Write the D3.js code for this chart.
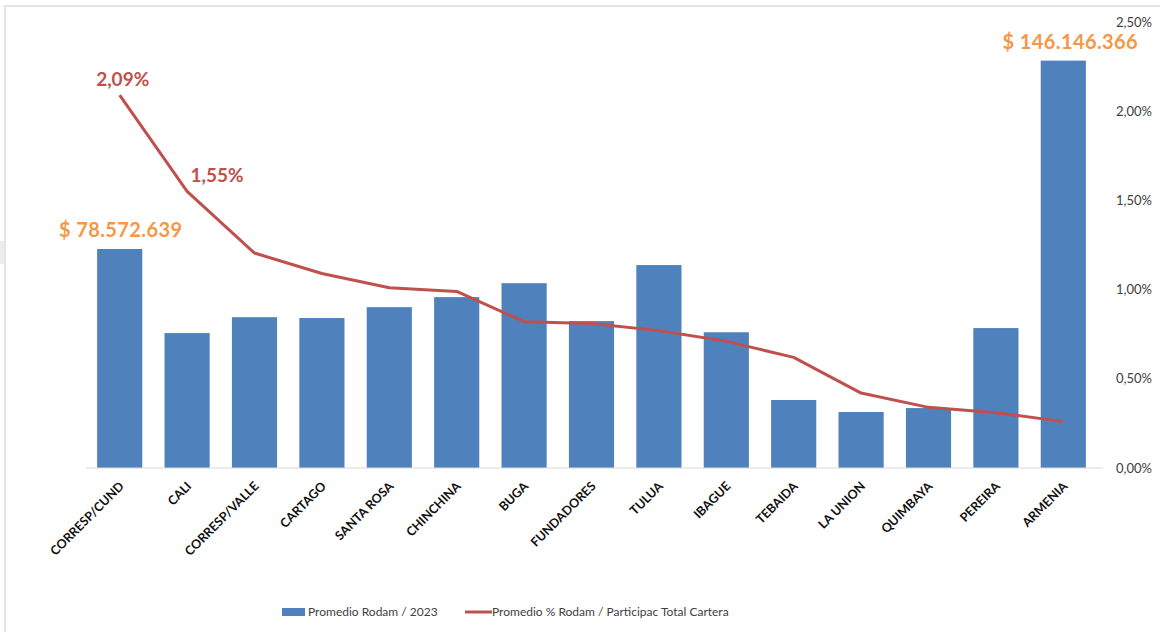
<!DOCTYPE html>
<html>
<head>
<meta charset="utf-8">
<script src="https://cdn.jsdelivr.net/npm/d3@7"></script>
<style>
  body { margin: 0; background: #fff; }
  svg { display: block; font-family: Lato, "Open Sans", sans-serif; }
  .tick-pct text { fill: #404040; font-size: 13px; font-family: Lato, "Open Sans", sans-serif; }
  .cat text { fill: #111; font-size: 12.5px; font-weight: bold; font-family: Lato, "Open Sans", sans-serif; }
</style>
</head>
<body>
<svg id="chart" width="1160" height="632"></svg>
<script>
'use strict';

var categories = ['CORRESP/CUND', 'CALI', 'CORRESP/VALLE', 'CARTAGO', 'SANTA ROSA',
  'CHINCHINA', 'BUGA', 'FUNDADORES', 'TULUA', 'IBAGUE', 'TEBAIDA', 'LA UNION',
  'QUIMBAYA', 'PEREIRA', 'ARMENIA'];

// Promedio Rodam / 2023 (pesos)
var rodam = [78572639, 48400000, 54100000, 53800000, 57700000, 61300000, 66300000,
  52700000, 72800000, 48700000, 24400000, 20100000, 21500000, 50200000, 146146366];

// Promedio % Rodam / Participac Total Cartera
var pct = [2.09, 1.55, 1.205, 1.09, 1.01, 0.99, 0.82, 0.81, 0.77, 0.71, 0.62,
  0.42, 0.34, 0.31, 0.26];

var pctTicks = [0, 0.5, 1, 1.5, 2, 2.5];

var barLabels = [0, 14];   // bars whose amount is written
var lineLabels = [0, 1];   // points whose percent is written

var blue = '#4f81bd',
    red = '#c0504d',
    orange = '#f79646';

var svg = d3.select('#chart'),
    plotLeft = 86,
    plotRight = 1097,
    plotTop = 22,
    plotBottom = 468;

var fmtMoney = function (v) {
  return '$ ' + d3.format(',')(v).replace(/,/g, '.');
};
var fmtPct = function (v) {
  return d3.format('.2f')(v).replace('.', ',') + '%';
};

// faint slide frame
svg.append('path')
  .attr('d', 'M5,632 V6 H1160')
  .attr('fill', 'none')
  .attr('stroke', '#e4e4e4')
  .attr('stroke-width', 2);
svg.append('rect')
  .attr('x', 0).attr('y', 241).attr('width', 4).attr('height', 23)
  .attr('fill', '#ececec');

var x = d3.scaleBand().domain(categories).range([plotLeft, plotRight])
  .paddingInner(0.33).paddingOuter(0.165);
var yBar = d3.scaleLinear().domain([0, 160000000]).range([plotBottom, plotTop]);
var yPct = d3.scaleLinear().domain([0, 2.5]).range([plotBottom, plotTop]);

var cx = function (i) { return x(categories[i]) + x.bandwidth() / 2; };

// bars
svg.append('g').selectAll('rect')
  .data(rodam)
  .join('rect')
  .attr('x', function (d, i) { return x(categories[i]); })
  .attr('y', function (d) { return yBar(d); })
  .attr('width', x.bandwidth())
  .attr('height', function (d) { return plotBottom - yBar(d); })
  .attr('fill', blue);

// category axis
var xAxis = svg.append('g')
  .attr('class', 'cat')
  .attr('transform', 'translate(0,' + plotBottom + ')')
  .call(d3.axisBottom(x).tickSize(0).tickPadding(0));
xAxis.select('.domain').attr('stroke', '#d9d9d9').attr('stroke-width', 1)
  .attr('d', 'M' + plotLeft + ',0H' + (plotRight + 6));
xAxis.selectAll('text')
  .attr('text-anchor', 'end')
  .attr('dy', null)
  .attr('transform', 'translate(5,19) rotate(-45)');

// right percent axis
var yAxis = svg.append('g')
  .attr('class', 'tick-pct')
  .attr('transform', 'translate(1116,0)')
  .call(d3.axisRight(yPct).tickValues(pctTicks).tickSize(0).tickPadding(0)
    .tickFormat(fmtPct));
yAxis.select('.domain').remove();

// line
var line = d3.line()
  .x(function (d, i) { return cx(i); })
  .y(function (d) { return yPct(d); });

svg.append('path')
  .datum(pct)
  .attr('d', line)
  .attr('fill', 'none')
  .attr('stroke', red)
  .attr('stroke-width', 3)
  .attr('stroke-linejoin', 'round');

// amount labels
svg.append('g').selectAll('text')
  .data(barLabels)
  .join('text')
  .attr('x', function (i) { return cx(i) + (i === 0 ? 1 : 7); })
  .attr('y', function (i) { return yBar(rodam[i]) - 12; })
  .attr('text-anchor', 'middle')
  .attr('fill', orange)
  .attr('font-size', 20)
  .attr('font-weight', 'bold')
  .attr('letter-spacing', 0.4)
  .text(function (i) { return fmtMoney(rodam[i]); });

// percent labels
svg.append('g').selectAll('text')
  .data(lineLabels)
  .join('text')
  .attr('x', function (i) { return cx(i) + (i === 0 ? 3 : 30); })
  .attr('y', function (i) { return yPct(pct[i]) - 9; })
  .attr('text-anchor', 'middle')
  .attr('fill', red)
  .attr('font-size', 19)
  .attr('font-weight', 'bold')
  .text(function (i) { return fmtPct(pct[i]); });

// legend
var legend = svg.append('g').attr('font-size', 12).attr('fill', '#404040');
legend.append('rect')
  .attr('x', 282).attr('y', 608).attr('width', 23).attr('height', 8)
  .attr('fill', blue);
legend.append('text').attr('x', 308).attr('y', 616).text('Promedio Rodam / 2023');
legend.append('line')
  .attr('x1', 465).attr('x2', 492).attr('y1', 612).attr('y2', 612)
  .attr('stroke', red).attr('stroke-width', 3);
legend.append('text').attr('x', 492).attr('y', 616)
  .text('Promedio % Rodam / Participac Total Cartera');
</script>
</body>
</html>
